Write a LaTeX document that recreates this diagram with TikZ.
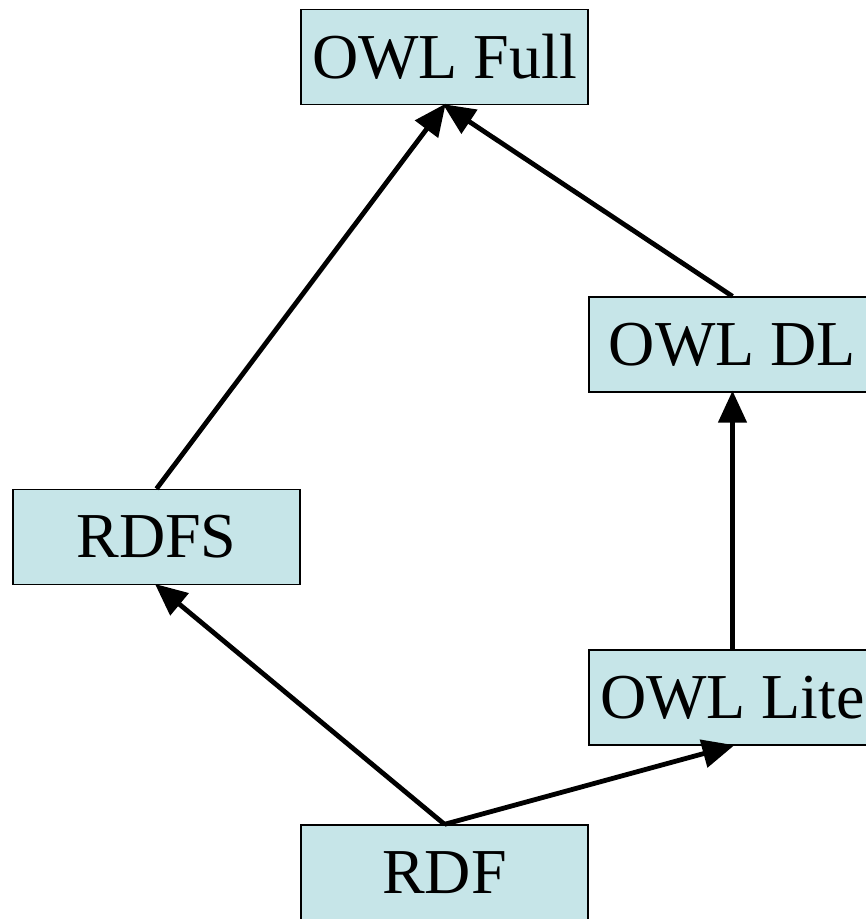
\documentclass[tikz,border=0pt]{standalone}
\usepackage{fontspec}
\setmainfont{Liberation Serif}
\usetikzlibrary{arrows.meta}
\definecolor{boxfill}{RGB}{198,229,232}
\begin{document}
\begin{tikzpicture}[x=1pt,y=-1pt,
  layer/.style={draw=black, line width=1.4pt, fill=boxfill,
    minimum width=287pt, minimum height=95pt, inner sep=0pt,
    font=\fontsize{64}{72}\selectfont},
  link/.style={line width=4.8pt, -{Triangle[length=32pt,width=28pt]}, shorten >=-2pt}]
  \useasboundingbox (0,0) rectangle (866,919);
  \clip (0,0) rectangle (866,919);
  % language layers
  \node[layer] (full) at (444.5,57)  {OWL Full};
  \node[layer] (dl)   at (732.5,344.5) {OWL DL};
  \node[layer] (lite) at (732.5,697.5) {OWL Lite};
  \node[layer] (rdfs) at (156.5,537) {RDFS};
  \node[layer] (rdf)  at (444.5,872.5) {RDF};
  % extension relations
  \draw[link] (rdfs.north) -- (full.south);
  \draw[link] (dl.north)   -- (full.south);
  \draw[link] (lite.north) -- (dl.south);
  \draw[link] (rdf.north)  -- (rdfs.south);
  \draw[link] (rdf.north)  -- (lite.south);
\end{tikzpicture}
\end{document}
